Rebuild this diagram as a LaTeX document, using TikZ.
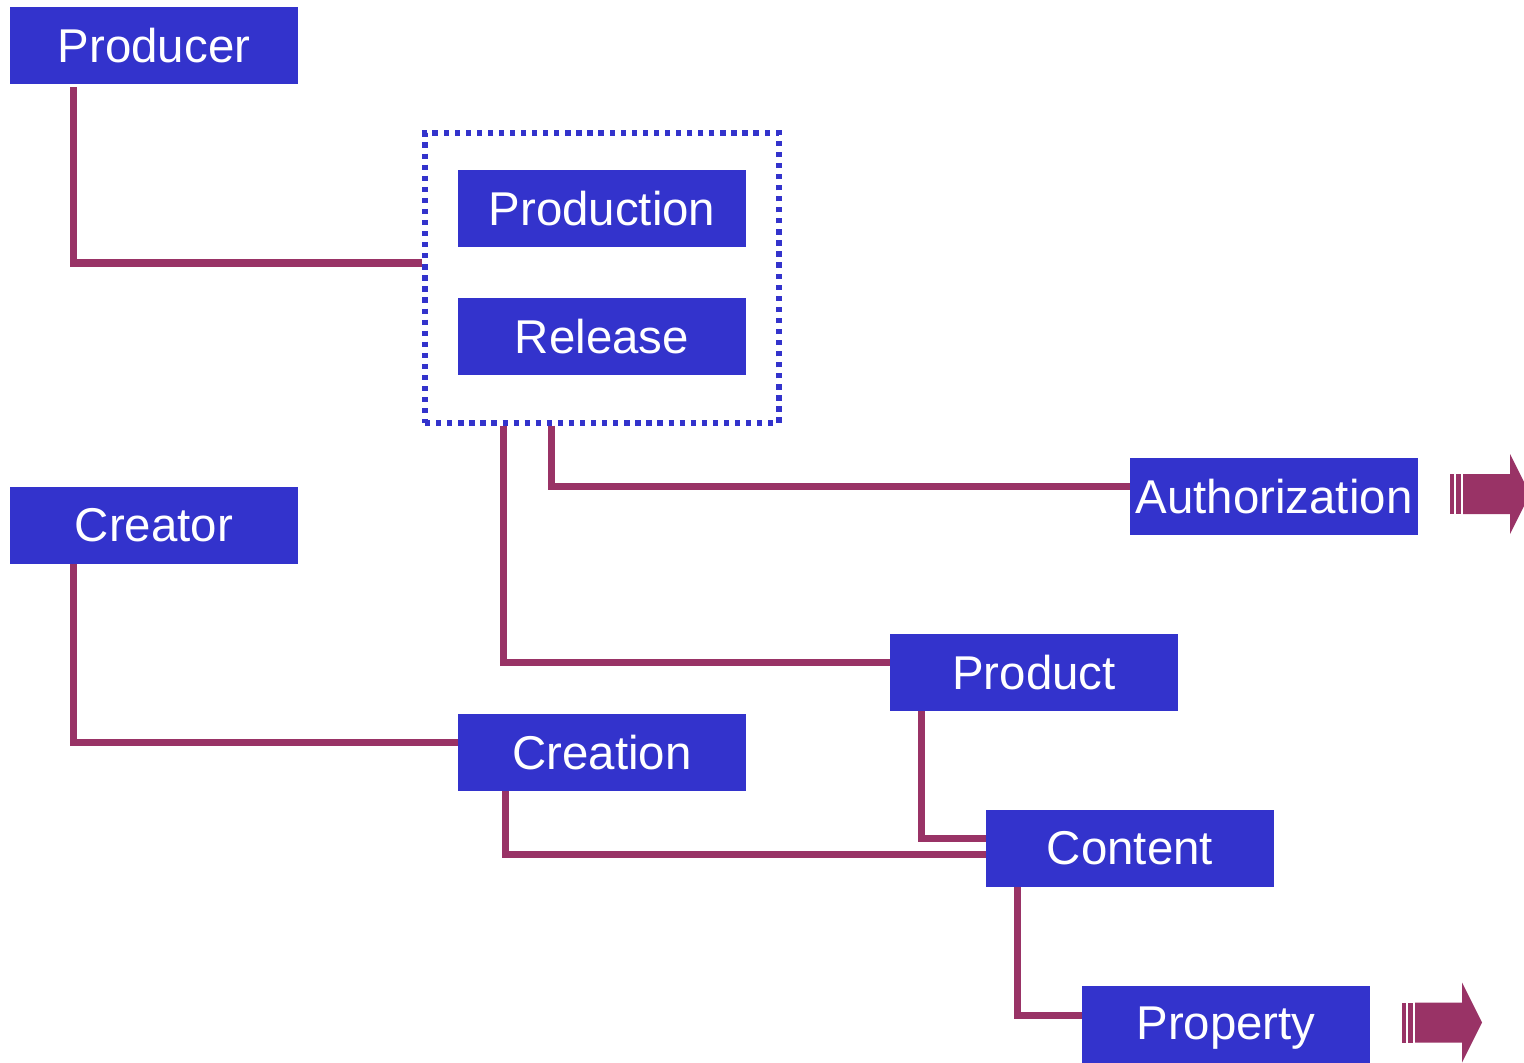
\documentclass[tikz,border=0pt]{standalone}
\usepackage{fontspec}
\setmainfont{Liberation Sans}
\usetikzlibrary{calc, positioning}
\definecolor{boxblue}{RGB}{51,51,204}
\definecolor{linkred}{RGB}{153,51,102}
\newcommand{\drawl}{\draw[linkred, line width=4pt]}
% striped arrow, #1 = left end, middle height
\newcommand{\stripearrow}[1]{%
  \begin{scope}[shift={#1}]
    \fill[linkred] (0,-20) rectangle (4,20);
    \fill[linkred] (6,-20) rectangle (11,20);
    \fill[linkred] (13,-20) -- (60,-20) -- (60,-40) -- (80,0) -- (60,40) -- (60,20) -- (13,20) -- cycle;
  \end{scope}}

\begin{document}
\begin{tikzpicture}[x=0.02cm, y=-0.02cm,
  term/.style={fill=boxblue, text=white, minimum width=5.76cm, minimum height=1.54cm,
    inner sep=0pt, font=\fontsize{27}{32}\selectfont}]
\useasboundingbox (0,0) rectangle (1524,1062);
% Group around production and release
\node[draw=boxblue, line width=3pt, dash pattern=on 3pt off 3.3pt,
  minimum width=7.08cm, minimum height=5.8cm, inner sep=0pt] (group) at (602,278) {};
% Boxes
\node[term] (producer) at (154,45.5) {Producer};
\node[term] (production) at (602,208.5) {Production};
\node[term] (release) at (602,336.5) {Release};
\node[term] (creator) at (154,525.5) {Creator};
\node[term] (authorization) at (1274,496.5) {Authorization};
\node[term] (product) at (1034,672.5) {Product};
\node[term] (creation) at (602,752.5) {Creation};
\node[term] (content) at (1130,848.5) {Content};
\node[term, minimum height=1.7cm] (property) at (1226,1028) {Property};
% Links
\drawl ($(producer.south west)+(64,3)$) |- ($(group.west)+(0,-15)$);
\drawl ($(group.south west)+(81,0)$) |- ($(product.west)+(0,-10)$);
\drawl ($(group.south west)+(129,0)$) |- ($(authorization.west)+(0,-10)$);
\drawl ($(creator.south west)+(64,0)$) |- ($(creation.west)+(0,-10)$);
\drawl ($(creation.south west)+(48,0)$) |- ($(content.west)+(0,6)$);
\drawl ($(product.south west)+(32,0)$) |- ($(content.west)+(0,-10)$);
\drawl ($(content.south west)+(32,0)$) |- ($(property.west)+(0,-13)$);
% Arrows
\stripearrow{(1450,494)}
\stripearrow{(1402,1022.5)}
\end{tikzpicture}
\end{document}
